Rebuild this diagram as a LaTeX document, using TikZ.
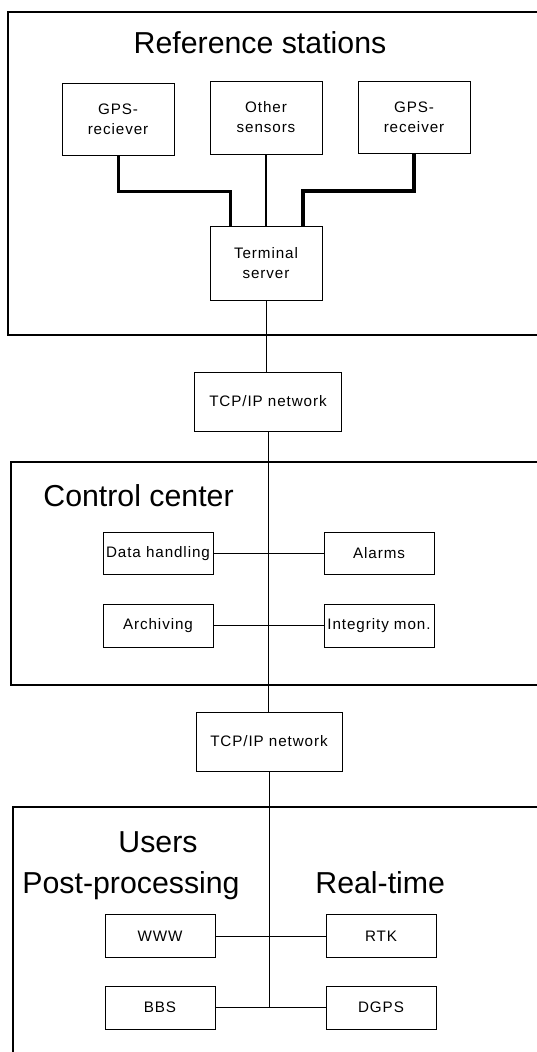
\documentclass[tikz,border=0pt]{standalone}
\usepackage{fontspec}
\setmainfont{Liberation Sans}
\newfontfamily\boxfont[LetterSpace=6]{Liberation Sans}

\tikzset{every picture/.style={line width=0.75pt}}
\tikzset{
  unit/.style={draw, line width=1pt, inner sep=0pt, align=center,
    font=\boxfont\fontsize{15.2}{20}\selectfont},
  heading/.style={inner sep=0pt, font=\fontsize{30.3}{36}\selectfont},
  feed/.style={line width=3pt},
  trunk/.style={line width=1pt}
}

\begin{document}
\begin{tikzpicture}[x=1pt,y=1pt,yscale=-1,xscale=1]
\useasboundingbox (0,0) rectangle (536,1052);

%Frames
\draw [line width=1.2pt] (545,12) -- (8,12) -- (8,335) -- (545,335) ;
\draw [line width=1.2pt] (545,462) -- (11,462) -- (11,685) -- (545,685) ;
\draw [line width=1.2pt] (545,807) -- (13,807) -- (13,1060) ;

% Text Node
\draw (260,53) node [heading, anchor=base] (reftitle) {Reference stations};
% Text Node
\draw (43,506) node [heading, anchor=base west] (ctrltitle) {Control center};
% Text Node
\draw (158,852) node [heading, anchor=base] (usertitle) {Users};
% Text Node
\draw (22,893) node [heading, anchor=base west] (posttitle) {Post-processing};
% Text Node
\draw (315,893) node [heading, anchor=base west] (realtitle) {Real-time};

%Reference stations
\draw (118,119) node [unit, minimum width=112, minimum height=72] (gpsA) {GPS-\\reciever};
\draw (266,117.5) node [unit, minimum width=112, minimum height=73] (other) {Other\\sensors};
\draw (414,117) node [unit, minimum width=112, minimum height=72] (gpsB) {GPS-\\receiver};
\draw (266,263) node [unit, minimum width=112, minimum height=74] (term) {Terminal\\server};

%Networks
\draw (268,401.5) node [unit, minimum width=147, minimum height=59] (tcpA) {TCP/IP network};
\draw (269,741.5) node [unit, minimum width=146, minimum height=59] (tcpB) {TCP/IP network};

%Control center
\draw (158,553.5) node [unit, minimum width=110, minimum height=42] (data) {Data handling};
\draw (379,553.5) node [unit, minimum width=110, minimum height=42] (alarm) {Alarms};
\draw (158,625.5) node [unit, minimum width=110, minimum height=43] (arch) {Archiving};
\draw (379,625.5) node [unit, minimum width=110, minimum height=43] (integ) {Integrity mon.};

%Users
\draw (160,936) node [unit, minimum width=110, minimum height=43] (www) {WWW};
\draw (381,936) node [unit, minimum width=110, minimum height=43] (rtk) {RTK};
\draw (160,1007.5) node [unit, minimum width=110, minimum height=43] (bbs) {BBS};
\draw (381,1007.5) node [unit, minimum width=110, minimum height=43] (dgps) {DGPS};

%Feeds into the terminal server
\coordinate (jl) at (230,191);
\coordinate (jr) at (303,191);
\draw [feed] (gpsA.south) |- (jl) -- (jl |- term.north) ;
\draw [line width=2pt] (other.south) -- (term.north) ;
\draw [feed, line width=3.5pt] (gpsB.south) |- (jr) -- (jr |- term.north) ;

%Trunk
\draw [trunk] (term.south) -- (term.south |- tcpA.north) ;
\draw [trunk] (tcpA.south) -- (tcpA.south |- tcpB.north) ;
\coordinate (jb) at (tcpB.south |- bbs.east);
\draw [trunk] (tcpB.south) -- (jb) ;

%Branches
\draw [trunk] (data.east) -- (alarm.west) ;
\draw [trunk] (arch.east) -- (integ.west) ;
\draw [trunk] (www.east) -- (rtk.west) ;
\draw [trunk] (bbs.east) -- (dgps.west) ;

\end{tikzpicture}
\end{document}
